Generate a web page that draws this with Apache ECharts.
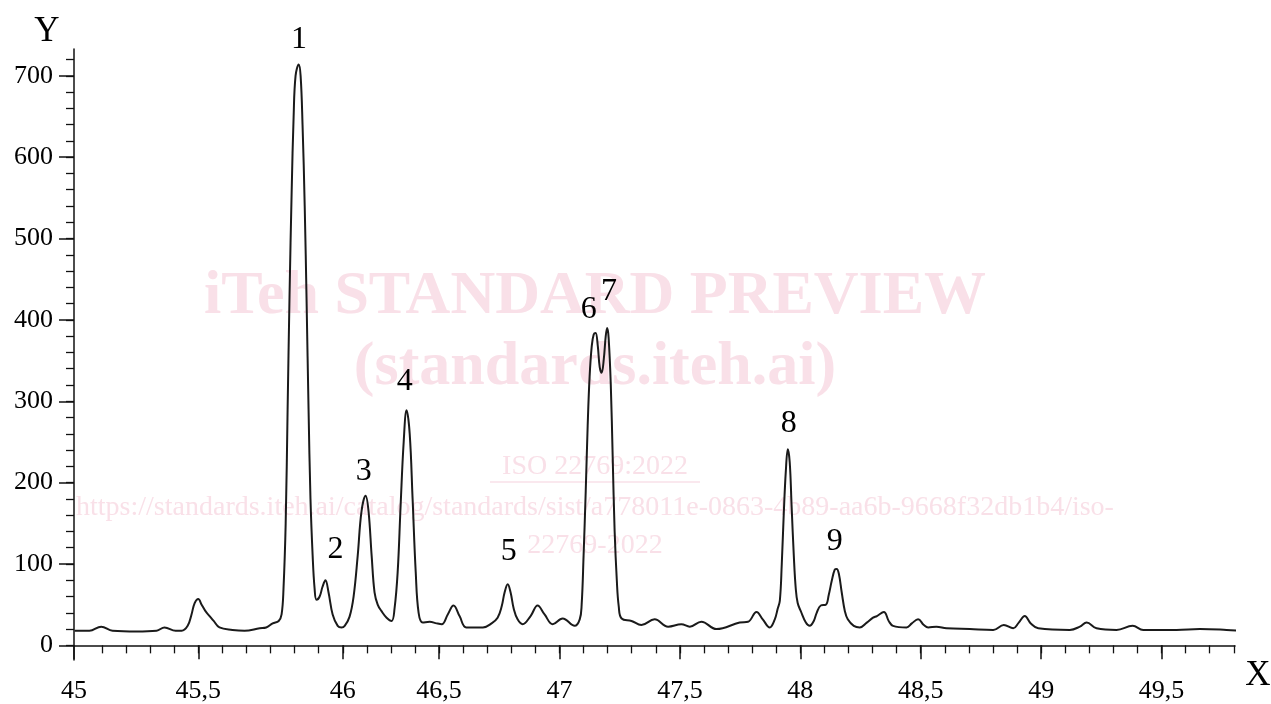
<!DOCTYPE html>
<html>
<head>
<meta charset="utf-8">
<script src="https://cdn.jsdelivr.net/npm/echarts@6/dist/echarts.min.js"></script>
<style>
html,body{margin:0;padding:0;background:#fff;}
#chart{width:1271px;height:704px;}
</style>
</head>
<body>
<div id="chart"></div>
<script>
// ---- data ----
const xValues = [44.986,45.048,45.097,45.144,45.244,45.327,45.360,45.406,45.431,45.456,45.472,45.485,45.500,45.514,45.530,45.547,45.564,45.588,45.642,45.692,45.755,45.782,45.809,45.834,45.846,45.854,45.863,45.871,45.879,45.888,45.896,45.904,45.917,45.925,45.933,45.942,45.950,45.958,45.966,45.975,45.983,45.991,46.004,46.016,46.028,46.041,46.058,46.079,46.095,46.108,46.128,46.145,46.162,46.178,46.195,46.207,46.220,46.232,46.245,46.261,46.282,46.303,46.315,46.328,46.340,46.353,46.365,46.378,46.390,46.403,46.415,46.432,46.461,46.490,46.511,46.536,46.560,46.585,46.613,46.682,46.718,46.743,46.760,46.772,46.785,46.797,46.810,46.826,46.847,46.880,46.909,46.938,46.972,47.013,47.063,47.084,47.092,47.100,47.109,47.117,47.125,47.134,47.142,47.150,47.159,47.167,47.175,47.184,47.192,47.198,47.204,47.213,47.221,47.229,47.238,47.246,47.258,47.299,47.340,47.395,47.451,47.506,47.541,47.589,47.652,47.748,47.783,47.818,47.844,47.873,47.894,47.906,47.915,47.923,47.931,47.940,47.948,47.956,47.964,47.973,47.981,47.989,48.002,48.023,48.039,48.056,48.068,48.085,48.106,48.118,48.131,48.143,48.151,48.160,48.172,48.185,48.197,48.222,48.247,48.276,48.302,48.318,48.347,48.367,48.385,48.441,48.463,48.489,48.513,48.531,48.565,48.607,48.704,48.801,48.845,48.884,48.907,48.932,48.957,48.988,49.119,49.161,49.189,49.230,49.313,49.380,49.424,49.562,49.659,49.770,49.825];
const yValues = [18,18,23,18,17,18,22,18,18,24,38,52,57,50,42,36,30,22,19,18,21,22,27,30,38,70,150,290,430,560,650,700,714,700,640,540,420,290,180,110,70,56,60,72,80,65,38,24,22,24,35,60,110,165,184,165,110,65,50,42,34,30,45,90,170,250,289,260,180,90,40,28,29,27,26,38,49,36,22,22,27,34,48,65,75,65,45,32,26,36,49,38,26,33,24,32,50,110,190,270,330,368,382,384,368,342,335,352,380,390,378,320,230,140,80,48,33,30,25,32,23,26,23,29,20,28,29,41,32,22,32,45,55,100,160,215,241,225,170,110,70,52,42,28,24,30,40,49,50,62,80,93,94,88,65,42,32,24,22,28,34,36,41,30,24,22,27,32,25,22,23,21,20,19,25,21,28,36,27,21,19,23,28,21,19,24,19,19,20,19,18];

const peakNames = ['1','2','3','4','5','6','7','8','9'];
const peakLabelX = [45.918,46.070,46.187,46.357,46.789,47.121,47.206,47.952,48.143];
const peakLabelY = [745,118,213,324,115,413,435,272,127];

const xMin = 44.984, xMax = 49.805;
const yMin = -18, yMax = 733;
const majorX = [44.984,45.5,46.1,46.5,47,47.5,48,48.5,49,49.5];
const majorXLabels = ['45','45,5','46','46,5','47','47,5','48','48,5','49','49,5'];
const minorX = [];
for (let i = 1; i <= 48; i++) minorX.push(+(45 + i * 0.1).toFixed(1));
const majorY = [0,100,200,300,400,500,600,700];
const minorY = [];
for (let v = 0; v <= 720; v += 20) minorY.push(v);

// ---- chart ----
const serif = '"Liberation Serif", "DejaVu Serif", serif';
const chart = echarts.init(document.getElementById('chart'));
const lineData = xValues.map((x, i) => [x, yValues[i]]);
const peakData = peakNames.map((n, i) => ({ name: n, value: [peakLabelX[i], peakLabelY[i]] }));
const axisCol = '#111';
const wm = '#f9e0e8';

chart.setOption({
  animation: false,
  backgroundColor: '#fff',
  grid: { left: 74, right: 36, top: 49, bottom: 43, containLabel: false },
  xAxis: [
    { type: 'value', min: xMin, max: xMax,
      axisLine: { show: true, lineStyle: { color: axisCol, width: 1.5 } },
      axisTick: { show: true, customValues: minorX, length: 8, lineStyle: { color: axisCol, width: 1.3 } },
      axisLabel: { show: false }, splitLine: { show: false } },
    { type: 'value', min: xMin, max: xMax, position: 'bottom',
      axisLine: { show: false },
      axisTick: { show: true, customValues: majorX, length: 14, lineStyle: { color: axisCol, width: 1.5 } },
      axisLabel: { show: true, customValues: majorX, margin: 18, color: '#000',
        fontFamily: serif, fontSize: 26,
        formatter: function (v) {
          let best = 0;
          for (let i = 0; i < majorX.length; i++) if (Math.abs(majorX[i] - v) < Math.abs(majorX[best] - v)) best = i;
          return majorXLabels[best];
        } },
      splitLine: { show: false } }
  ],
  yAxis: [
    { type: 'value', min: yMin, max: yMax,
      axisLine: { show: true, lineStyle: { color: axisCol, width: 1.5 } },
      axisTick: { show: true, customValues: minorY, length: 8, lineStyle: { color: axisCol, width: 1.3 } },
      axisLabel: { show: false }, splitLine: { show: false } },
    { type: 'value', min: yMin, max: yMax, position: 'left',
      axisLine: { show: false },
      axisTick: { show: true, customValues: majorY, length: 15, lineStyle: { color: axisCol, width: 1.5 } },
      axisLabel: { show: true, customValues: majorY, margin: 21, color: '#000', fontFamily: serif, fontSize: 26 },
      splitLine: { show: false } }
  ],
  graphic: [
    { type: 'text', z: 0, style: { text: 'iTeh STANDARD PREVIEW', x: 595, y: 297, textAlign: 'center', textVerticalAlign: 'middle', fill: wm, font: 'bold 62px "Liberation Serif", serif' } },
    { type: 'text', z: 0, style: { text: '(standards.iteh.ai)', x: 595, y: 368, textAlign: 'center', textVerticalAlign: 'middle', fill: wm, font: 'bold 62px "Liberation Serif", serif' } },
    { type: 'text', z: 0, style: { text: 'ISO 22769:2022', x: 595, y: 467, textAlign: 'center', textVerticalAlign: 'middle', fill: wm, font: '28px "Liberation Serif", serif' } },
    { type: 'line', z: 0, shape: { x1: 490, y1: 482, x2: 700, y2: 482 }, style: { stroke: wm, lineWidth: 1.5 } },
    { type: 'text', z: 0, style: { text: 'https://standards.iteh.ai/catalog/standards/sist/a778011e-0863-4b89-aa6b-9668f32db1b4/iso-', x: 595, y: 508, textAlign: 'center', textVerticalAlign: 'middle', fill: wm, font: '28px "Liberation Serif", serif' } },
    { type: 'text', z: 0, style: { text: '22769-2022', x: 595, y: 546, textAlign: 'center', textVerticalAlign: 'middle', fill: wm, font: '28px "Liberation Serif", serif' } },
    { type: 'text', z: 10, style: { text: 'Y', x: 47, y: 32, textAlign: 'center', textVerticalAlign: 'middle', fill: '#000', font: '35px "Liberation Serif", serif' } },
    { type: 'text', z: 10, style: { text: 'X', x: 1258, y: 676, textAlign: 'center', textVerticalAlign: 'middle', fill: '#000', font: '35px "Liberation Serif", serif' } }
  ],
  series: [
    { type: 'line', xAxisIndex: 0, yAxisIndex: 0, data: lineData, showSymbol: false, symbol: 'none',
      smooth: 0.4, clip: false, z: 5,
      lineStyle: { color: '#1a1a1a', width: 2 } },
    { type: 'scatter', xAxisIndex: 0, yAxisIndex: 0, data: peakData, symbolSize: 0, clip: false, z: 6,
      itemStyle: { opacity: 1 },
      label: { show: true, position: 'inside', formatter: '{b}', color: '#000', opacity: 1, textBorderWidth: 0,
        fontFamily: serif, fontSize: 32 } }
  ]
});
</script>
</body>
</html>
